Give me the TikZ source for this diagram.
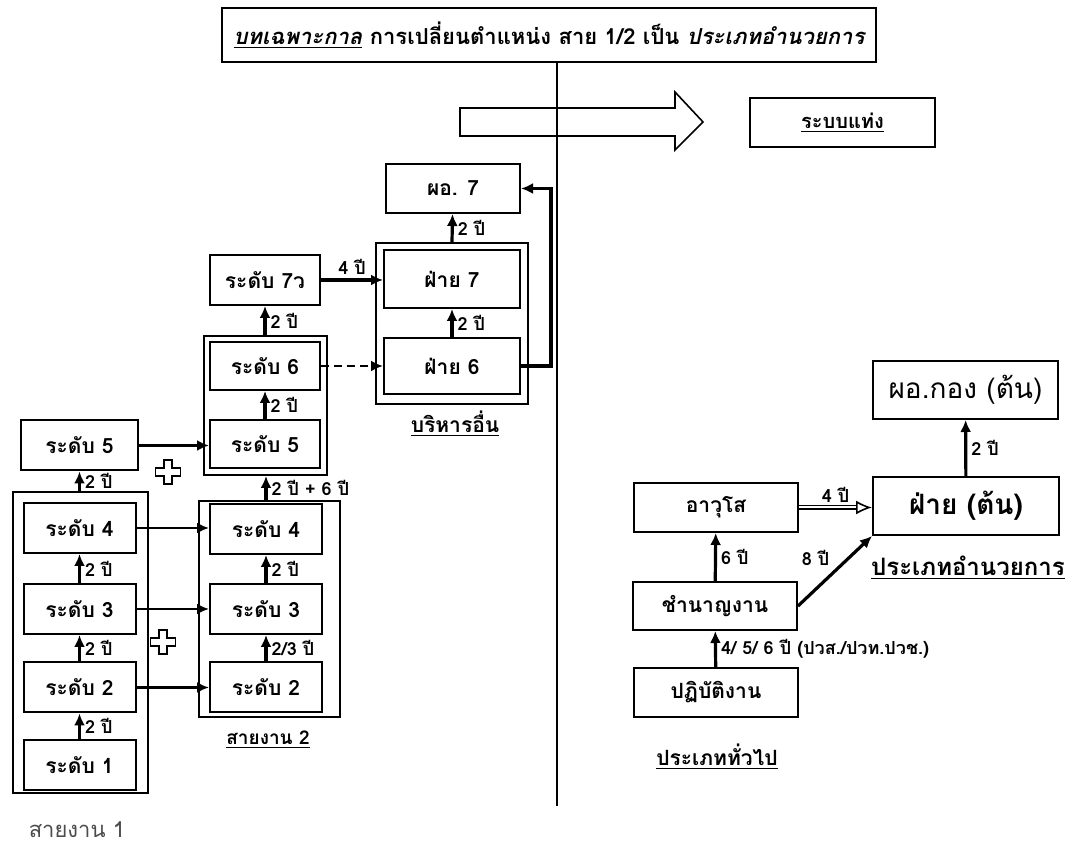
\documentclass[tikz,border=0pt]{standalone}
\usepackage{fontspec}
\setmainfont{Loma}[Script=Thai]
\usetikzlibrary{arrows.meta}

\begin{document}
\begin{tikzpicture}[x=0.5pt, y=-0.5pt,
    box/.style={draw, line width=1pt, inner sep=1pt, minimum height=25pt,
      font=\fontsize{10.5}{12}\selectfont\bfseries},
    lvl/.style={box, minimum width=56pt},
    grp/.style={draw, line width=1pt, inner sep=0pt},
    arr/.style={-{Latex[length=6pt,width=5.5pt]}, line width=1.6pt},
    yrs/.style={font=\fontsize{9}{10}\selectfont\bfseries, inner sep=2pt},
    lbl/.style={font=\fontsize{10.5}{12}\selectfont\bfseries}]
    \useasboundingbox (0,0) rectangle (1066,849);

    \node[box, minimum width=327pt, minimum height=27pt, font=\fontsize{11}{13}\selectfont\bfseries] (ttl) at (549,35)
      {\underline{\itshape บทเฉพาะกาล} การเปลี่ยนตำแหน่ง สาย 1/2 เป็น {\itshape ประเภทอำนวยการ}};
    \draw[line width=1pt] ([xshift=4pt]ttl.south) -- ++(0,743);
    \draw[line width=0.8pt] (460,108) -- (675,108) -- (675,92) -- (703,122) -- (675,150) -- (675,136) -- (460,136) -- cycle;
    \node[box, minimum width=92.5pt, minimum height=24.5pt, font=\fontsize{10}{12}\selectfont\bfseries] (sys) at (842.5,123) {\underline{ระบบแท่ง}};

    \foreach \n/\y in {1/765, 2/687.5, 3/609, 4/528}
      \node[lvl] (l\n) at (79.5,\y) {ระดับ \n};
    \node[grp, minimum width=67.5pt, minimum height=150.5pt] (g1) at (80.5,642.5) {};
    \node[lvl, minimum width=58.5pt] (l5) at (79.5,445.5) {ระดับ 5};

    \foreach \n/\y in {2/687.5, 3/609, 4/529}
      \node[lvl] (r\n) at (266,\y) {ระดับ \n};
    \node[grp, minimum width=70.5pt, minimum height=108pt] (g2) at (269.5,609) {};
    \node[lvl, minimum width=55pt, minimum height=24pt] (r5) at (265,444) {ระดับ 5};
    \node[lvl, minimum width=55pt, minimum height=24pt] (r6) at (265,366) {ระดับ 6};
    \node[grp, minimum width=61.5pt, minimum height=69.5pt] (g3) at (265.5,405.5) {};
    \node[lvl, minimum width=55pt] (r7) at (265,280) {ระดับ 7ว};

    \node[box, minimum width=68pt, minimum height=29pt] (f7) at (452,279) {ฝ่าย 7};
    \node[box, minimum width=68pt, minimum height=28pt] (f6) at (452,366) {ฝ่าย 6};
    \node[grp, minimum width=76pt, minimum height=80.5pt] (g4) at (452,323.5) {};
    \node[box, minimum width=67pt, minimum height=24.5pt] (d7) at (453,188.5) {ผอ. 7};
    \node[lbl] (bh) at (455,424) {\underline{บริหารอื่น}};
    \node[lbl, font=\fontsize{9.5}{11}\selectfont\bfseries] (s2) at (268,740) {\underline{สายงาน 2}};
    \node[font=\fontsize{11}{13}\selectfont, text=black!70] (s1) at (77,830) {สายงาน 1};

    \foreach \p in {(168,472), (163,642)}
      \draw[line width=0.8pt, shift={\p}] (-4,-12) -- (4,-12) -- (4,-4) -- (12.5,-4) -- (12.5,4) -- (4,4)
        -- (4,12) -- (-4,12) -- (-4,4) -- (-12.5,4) -- (-12.5,-4) -- (-4,-4) -- cycle;

    \draw[arr] (l1) -- (l2) node[yrs, midway, right] {2 ปี};
    \draw[arr] (l2) -- (l3) node[yrs, midway, right] {2 ปี};
    \draw[arr] (l3) -- (l4) node[yrs, midway, right] {2 ปี};
    \draw[arr] (l4 |- g1.north) -- (l5) node[yrs, midway, right] {2 ปี};
    \foreach \n in {2,3,4}
      \draw[arr, line width=1.3pt] (l\n.east) -- (l\n.east -| r\n.west);
    \draw[arr, line width=1.3pt] (l5.east) -- (l5.east -| r5.west);
    \draw[arr] (r2) -- (r3) node[yrs, midway, right] {2/3 ปี};
    \draw[arr] (r3) -- (r4) node[yrs, midway, right] {2 ปี};
    \draw[arr] (r4 |- g2.north) -- (r4 |- g3.south) node[yrs, midway, right] {2 ปี + 6 ปี};
    \draw[arr] (r5) -- (r6) node[yrs, midway, right] {2 ปี};
    \draw[arr] (r6 |- g3.north) -- (r7) node[yrs, midway, right] {2 ปี};
    \draw[arr] (r7.east) -- (r7.east -| f7.west) node[yrs, midway, above] {4 ปี};
    \draw[arr, line width=1.2pt, dash pattern=on 4pt off 2.5pt] (r6.east) -- (r6.east -| f6.west);
    \draw[arr] (f6) -- (f7) node[yrs, midway, right] {2 ปี};
    \draw[arr] (f7 |- g4.north) -- (d7) node[yrs, midway, right] {2 ปี};
    \draw[arr] (f6.east) -- ++(30,0) |- (d7.east);

    \node[box, minimum width=92.5pt, minimum height=29pt, font=\fontsize{14}{16}\selectfont] (dk) at (965.5,390) {ผอ.กอง (ต้น)};
    \node[box, minimum width=93pt, minimum height=29pt, font=\fontsize{14}{16}\selectfont\bfseries] (fk) at (966,506) {ฝ่าย (ต้น)};
    \node[box, minimum width=82pt, minimum height=24.5pt] (aw) at (716,507.5) {อาวุโส};
    \node[box, minimum width=82pt, minimum height=24pt] (cn) at (715,606) {ชำนาญงาน};
    \node[box, minimum width=82pt, minimum height=24.5pt] (pt) at (716,692.5) {ปฏิบัติงาน};
    \node[lbl, font=\fontsize{12}{14}\selectfont\bfseries] (ta) at (968,568) {\underline{ประเภทอำนวยการ}};
    \node[lbl] (tg) at (717,757) {\underline{ประเภททั่วไป}};

    \draw[arr] (pt) -- (cn) node[yrs, midway, right] {4/ 5/ 6 ปี (ปวส./ปวท.ปวช.)};
    \draw[arr] (cn) -- (aw) node[yrs, midway, right] {6 ปี};
    \draw[arr] (cn.east) -- (fk.south west) node[yrs, midway, above left] {8 ปี};
    \draw[double, double distance=1pt, line width=0.8pt, -{Latex[open, length=8pt, width=7pt]}]
      (aw.east) -- (aw.east -| fk.west) node[yrs, midway, above] {4 ปี};
    \draw[arr] (fk) -- (dk) node[yrs, midway, right] {2 ปี};
\end{tikzpicture}
\end{document}
